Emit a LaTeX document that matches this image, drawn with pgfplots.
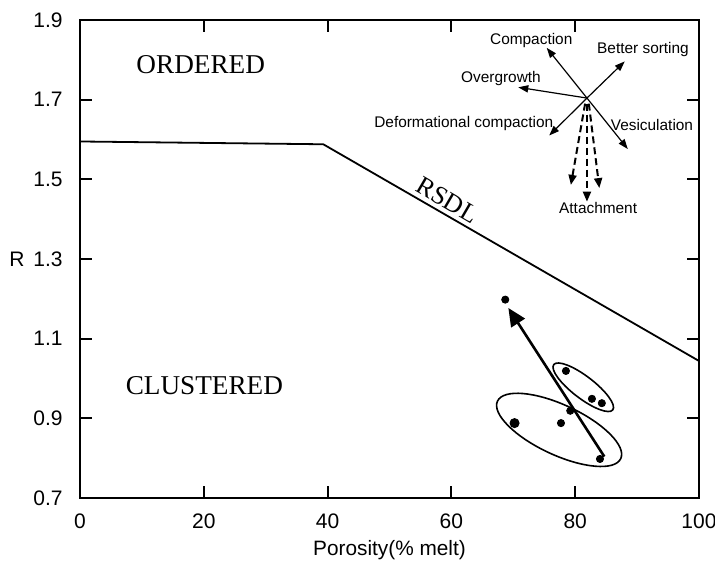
\documentclass[border=0pt]{standalone}
\usepackage{pgfplots}
\pgfplotsset{compat=1.18}
\usetikzlibrary{arrows.meta}
\usepackage{fontspec}
\setmainfont{Liberation Sans}
\newfontfamily\serif{Liberation Serif}

\begin{document}
\begin{tikzpicture}
  \begin{axis}[
      scale only axis,
      width=309.5pt,
      height=239pt,
      xmin=0, xmax=100,
      ymin=0.7, ymax=1.9,
      xtick={0,20,...,100},
      ytick={0.7,0.9,...,1.95},
      yticklabel style={/pgf/number format/fixed, /pgf/number format/precision=1,
        /pgf/number format/fixed zerofill},
      /pgf/number format/assume math mode=true,
      tick align=inside,
      tick pos=both,
      major tick length=6pt,
      every tick/.style={black, line width=1pt},
      axis line style={line width=1pt},
      tick label style={font=\fontsize{10.5}{12}\selectfont, inner sep=0pt},
      xticklabel style={anchor=base, yshift=-15.5pt},
      yticklabel style={anchor=east, xshift=-8.5pt},
      xlabel={Porosity(\% melt)},
      xlabel style={font=\fontsize{10.4}{12}\selectfont, at={(axis description cs:0.5,0)},
        anchor=base, inner sep=0pt, yshift=-29pt},
      clip=false,
    ]

    % RSDL boundary
    \addplot[black, line width=0.9pt] coordinates {
      (0,1.595) (39.3,1.588) (100,1.044)
    };

    % samples
    \addplot[only marks, mark=*, mark size=1.8pt, black] coordinates {
      (68.7,1.198) (78.5,1.019) (82.7,0.949) (84.3,0.938)
      (79.2,0.919) (77.7,0.888) (84.0,0.798)
    };
    \addplot[only marks, mark=*, mark size=2.3pt, black] coordinates {
      (70.2,0.888)
    };

    % trend arrow
    \draw[line width=1.3pt, -{Triangle[length=9pt,width=8pt]}]
      (axis cs:84.7,0.804) -- (axis cs:69.2,1.177);

    % groups
    \draw[line width=0.8pt, rotate around={-25:(axis cs:77.4,0.871)}]
      (axis cs:77.4,0.871) ellipse [x radius=34pt, y radius=12.5pt];
    \draw[line width=0.8pt, rotate around={-37.5:(axis cs:81.3,0.978)}]
      (axis cs:81.3,0.978) ellipse [x radius=18.6pt, y radius=5.5pt];

    % process vectors
    \begin{scope}[line width=0.6pt, -{Triangle[length=5pt,width=3.6pt]}]
      \draw (axis cs:81.9,1.704) -- (axis cs:75.4,1.830);
      \draw (axis cs:81.9,1.704) -- (axis cs:88.0,1.796);
      \draw (axis cs:81.9,1.704) -- (axis cs:70.8,1.731);
      \draw (axis cs:81.9,1.704) -- (axis cs:75.8,1.610);
      \draw (axis cs:81.9,1.704) -- (axis cs:88.5,1.576);
    \end{scope}
    \begin{scope}[line width=1pt, dash pattern=on 3.5pt off 2pt,
        -{Triangle[length=5pt,width=4pt]}]
      \draw (axis cs:81.6,1.690) -- (axis cs:79.3,1.486);
      \draw (axis cs:81.9,1.690) -- (axis cs:81.9,1.444);
      \draw (axis cs:82.2,1.690) -- (axis cs:83.9,1.478);
    \end{scope}

    \begin{scope}[font=\fontsize{7.7}{9}\selectfont, inner sep=0pt]
      \node at (axis cs:72.9,1.849) {Compaction};
      \node at (axis cs:90.95,1.825) {Better sorting};
      \node at (axis cs:68.0,1.754) {Overgrowth};
      \node at (axis cs:62.0,1.639) {Deformational compaction};
      \node at (axis cs:92.4,1.6375) {Vesiculation};
      \node at (axis cs:83.7,1.428) {Attachment};
    \end{scope}

    \node[font=\serif\fontsize{13.6}{15}\selectfont, inner sep=0pt]
      at (axis cs:19.5,1.788) {ORDERED};
    \node[font=\serif\fontsize{13.6}{15}\selectfont, inner sep=0pt]
      at (axis cs:20.1,0.982) {CLUSTERED};
    \node[font=\serif\fontsize{13}{15}\selectfont, inner sep=0pt, anchor=south,
      rotate=-30.3] at (axis cs:58.6,1.428) {RSDL};

    \node[font=\fontsize{10.5}{12}\selectfont, inner sep=0pt, anchor=east]
      at (axis cs:0,1.3) [xshift=-27.5pt] {R};
  \end{axis}
  \pgfresetboundingbox
  \path[use as bounding box]
    ([xshift=-40pt,yshift=-36pt]current axis.south west)
    rectangle ([xshift=8pt,yshift=10pt]current axis.north east);
\end{tikzpicture}
\end{document}
